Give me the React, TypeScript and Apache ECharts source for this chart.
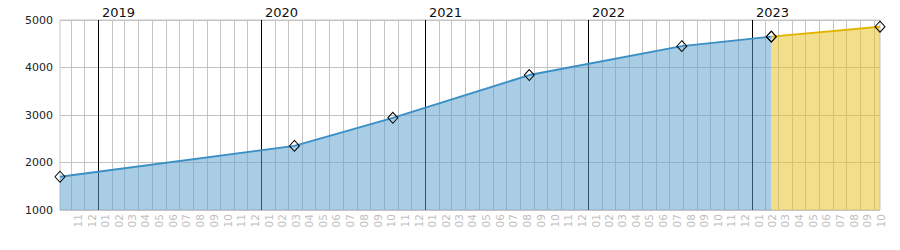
import React, { useEffect, useRef } from "react";
import * as echarts from "echarts";

// ---- data ----
const actualDates = ["2018-10-07", "2020-03-14", "2020-10-20", "2021-08-21", "2022-07-28", "2023-02-13"];
const actualValues = [1700, 2350, 2940, 3840, 4450, 4650];
const forecastDates = ["2023-02-13", "2023-10-14"];
const forecastValues = [4650, 4860];
const yearLabels = ["2019", "2020", "2021", "2022", "2023"];
const firstMonthLabel = "2018-11";
const lastMonthLabel = "2023-10";
const yTicks = { min: 1000, max: 5000, interval: 1000 };

const ts = (s: string) => {
  const p = s.split("-").map(Number);
  return Date.UTC(p[0], p[1] - 1, p[2] || 1);
};

const FONT = "DejaVu Sans";

export default function App() {
  const ref = useRef<HTMLDivElement>(null);
  useEffect(() => {
    document.body.style.margin = "0";
    if (!ref.current) return;
    const chart = echarts.init(ref.current, undefined, { renderer: "svg" });

    const xMin = ts(actualDates[0]);
    const xMax = ts(forecastDates[forecastDates.length - 1]);

    // month starts (gridlines) and month middles (labels)
    const monthLines: number[][] = [];
    const monthLabs: number[][] = [];
    const monthText: string[] = [];
    {
      const [fy, fm] = firstMonthLabel.split("-").map(Number);
      const [ly, lm] = lastMonthLabel.split("-").map(Number);
      let y = fy, m = fm;
      while (y < ly || (y === ly && m <= lm)) {
        const s = Date.UTC(y, m - 1, 1);
        const e = Date.UTC(y, m, 1);
        if (s > xMin && s < xMax) monthLines.push([s, yTicks.min]);
        monthLabs.push([(s + e) / 2, yTicks.min]);
        monthText.push((m < 10 ? "0" : "") + m);
        m++;
        if (m > 12) { m = 1; y++; }
      }
    }
    const yearData = yearLabels.map((y) => [Date.UTC(Number(y), 0, 1), yTicks.min]);

    const crisp = (x: number) => Math.round(x - 0.5) + 0.5;

    const option: any = {
      animation: false,
      grid: {
        left: 60, right: 20, top: 20, bottom: 40,
        show: true, borderColor: "#c4c4c4", borderWidth: 1, backgroundColor: "transparent",
      },
      xAxis: {
        type: "time", min: xMin, max: xMax,
        axisLine: { show: false }, axisTick: { show: false },
        axisLabel: { show: false }, splitLine: { show: false },
      },
      yAxis: {
        type: "value", min: yTicks.min, max: yTicks.max, interval: yTicks.interval,
        axisLine: { show: false }, axisTick: { show: false },
        axisLabel: {
          color: "#222", fontSize: 11, fontFamily: FONT, margin: 7,
          formatter: (v: number) => String(v),
        },
        splitLine: { lineStyle: { color: "#c4c4c4", width: 1 } },
      },
      series: [
        {
          type: "custom", z: 1, silent: true,
          encode: { x: 0, y: 1 },
          data: monthLines,
          renderItem: (params: any, api: any) => {
            const x = crisp(api.coord([api.value(0), yTicks.min])[0]);
            const cs = params.coordSys;
            return {
              type: "line",
              shape: { x1: x, y1: cs.y, x2: x, y2: cs.y + cs.height },
              style: { stroke: "#c4c4c4", lineWidth: 1 },
            };
          },
        },
        {
          type: "custom", z: 1, silent: true,
          encode: { x: 0, y: 1 },
          data: yearData,
          renderItem: (params: any, api: any) => {
            const x = crisp(api.coord([api.value(0), yTicks.min])[0]);
            const cs = params.coordSys;
            return {
              type: "group",
              children: [
                {
                  type: "line",
                  shape: { x1: x, y1: cs.y, x2: x, y2: cs.y + cs.height },
                  style: { stroke: "#000", lineWidth: 1 },
                },
                {
                  type: "text",
                  x: x + 3.5, y: cs.y - 7.5,
                  style: {
                    text: yearLabels[params.dataIndex], fill: "#111", font: `13px '${FONT}'`,
                    align: "left", verticalAlign: "middle",
                  },
                },
              ],
            };
          },
        },
        {
          type: "custom", z: 1, silent: true,
          encode: { x: 0, y: 1 },
          data: monthLabs,
          renderItem: (params: any, api: any) => {
            const x = api.coord([api.value(0), yTicks.min])[0];
            const cs = params.coordSys;
            return {
              type: "text",
              x: x, y: cs.y + cs.height + 4,
              rotation: Math.PI / 2,
              style: {
                text: monthText[params.dataIndex], fill: "#c0c0c0", font: `10.5px '${FONT}'`,
                align: "right", verticalAlign: "middle",
              },
            };
          },
        },
        {
          type: "line", z: 3,
          data: actualDates.map((d, i) => [ts(d), actualValues[i]]),
          symbol: "diamond", symbolSize: [10, 11], showAllSymbol: true,
          itemStyle: { color: "transparent", borderColor: "#000", borderWidth: 1 },
          lineStyle: { color: "#3a8fc4", width: 2 },
          areaStyle: { color: "rgb(89,160,203)", opacity: 0.52, origin: "start" },
        },
        {
          type: "line", z: 3,
          data: forecastDates.map((d, i) => [ts(d), forecastValues[i]]),
          symbol: "diamond", symbolSize: [10, 11], showAllSymbol: true,
          itemStyle: { color: "transparent", borderColor: "#000", borderWidth: 1 },
          lineStyle: { color: "#e2b400", width: 2 },
          areaStyle: { color: "rgb(230,192,32)", opacity: 0.52, origin: "start" },
        },
      ],
    };
    chart.setOption(option);
    return () => chart.dispose();
  }, []);
  return <div ref={ref} style={{ width: 900, height: 250 }} />;
}
